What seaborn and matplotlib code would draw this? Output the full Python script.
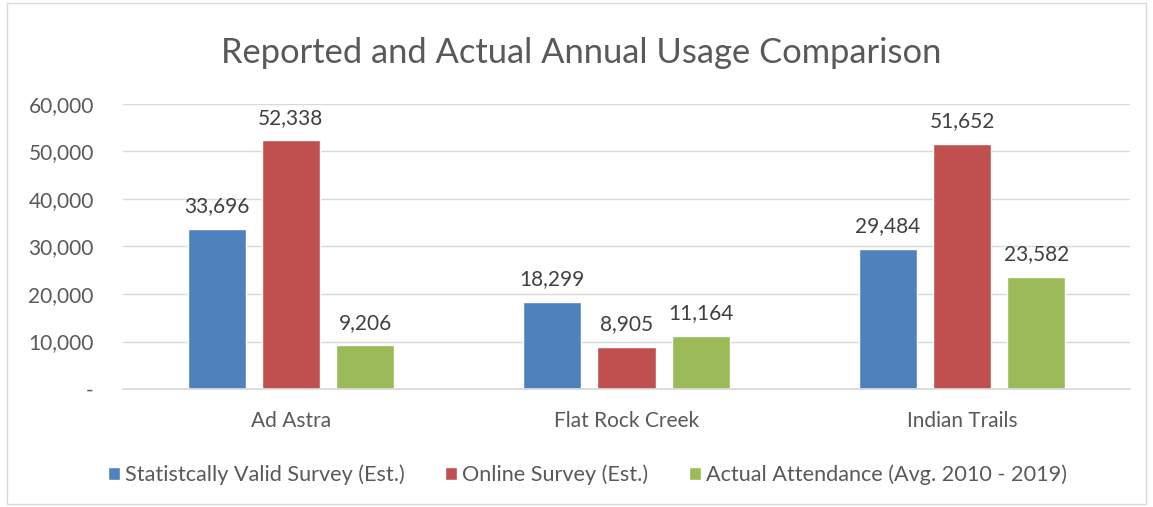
import matplotlib
matplotlib.use("Agg")
import matplotlib.pyplot as plt
import seaborn as sns
import pandas as pd
from matplotlib.patches import Rectangle

categories = ["Ad Astra", "Flat Rock Creek", "Indian Trails"]
series_names = ["Statistcally Valid Survey (Est.)", "Online Survey (Est.)", "Actual Attendance (Avg. 2010 - 2019)"]
statistically_valid = [33696, 18299, 29484]
online_survey = [52338, 8905, 51652]
actual_attendance = [9206, 11164, 23582]
yticks = [0, 10000, 20000, 30000, 40000, 50000, 60000]
ytick_labels = ["-", "10,000", "20,000", "30,000", "40,000", "50,000", "60,000"]
colors = ["#4F81BD", "#C0504D", "#9BBB59"]

rows = []
for name, vals in zip(series_names, [statistically_valid, online_survey, actual_attendance]):
    for c, v in zip(categories, vals):
        rows.append({"Category": c, "Series": name, "Value": v})
df = pd.DataFrame(rows)

sns.set_theme(style="white")
plt.rcParams['font.family'] = ['Lato', 'DejaVu Sans']
text_color = "#595959"

fig = plt.figure(figsize=(11.53, 5.07), dpi=100)
ax = fig.add_axes([0.1067, 0.2327, 0.8733, 0.5623])

sns.barplot(data=df, x="Category", y="Value", hue="Series", hue_order=series_names,
            palette=colors, width=0.663, gap=0.216, ax=ax, legend=True, saturation=1)

for cont in ax.containers:
    ax.bar_label(cont, labels=[f"{int(v):,}" for v in cont.datavalues], padding=9,
                 fontsize=15, color="#404040")

ax.set_ylim(0, 60000)
ax.set_xlim(-0.5, 2.5)
ax.set_yticks(yticks)
ax.set_yticklabels(ytick_labels, fontsize=15, color=text_color)
ax.tick_params(axis='x', labelsize=15, colors=text_color, length=0, pad=16)
ax.tick_params(axis='y', length=0, pad=21)
ax.yaxis.grid(True, color="#D9D9D9", linewidth=1)
ax.set_axisbelow(True)
for s in ["top", "right", "left"]:
    ax.spines[s].set_visible(False)
ax.spines["bottom"].set_color("#D9D9D9")
ax.set_xlabel("")
ax.set_ylabel("")

fig.text(0.504, 0.896, "Reported and Actual Annual Usage Comparison", ha="center", va="center",
         fontsize=24.8, color=text_color)

handles, labels = ax.get_legend_handles_labels()
ax.legend_.remove()
fig.legend(handles, labels, loc="center", bbox_to_anchor=(0.5095, 0.063), ncol=3, frameon=False,
           fontsize=15.6, labelcolor=text_color, handlelength=0.55, handleheight=0.55,
           handletextpad=0.25, columnspacing=1.85)

fig.patches.append(Rectangle((0.006, 0.006), 0.988, 0.988, transform=fig.transFigure,
                             fill=False, edgecolor="#D9D9D9", linewidth=1))

fig.savefig("out.png", dpi=100)
